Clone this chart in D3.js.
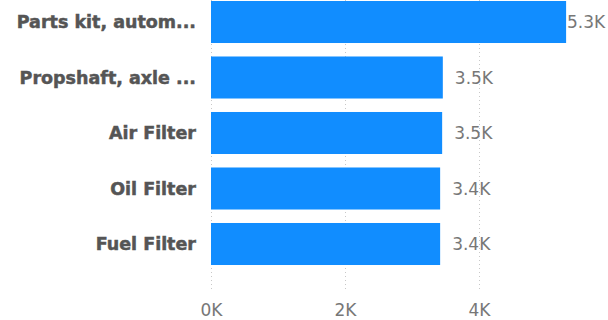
<!DOCTYPE html>
<html>
<head>
<meta charset="utf-8">
<script src="https://cdn.jsdelivr.net/npm/d3@7"></script>
<style>
  html, body { margin: 0; padding: 0; background: #fff; }
  svg { display: block; }
</style>
</head>
<body>
<svg id="chart" width="608" height="320"></svg>
<script>
// Top products by quantity
const categories = ["Parts kit, autom...", "Propshaft, axle ...", "Air Filter", "Oil Filter", "Fuel Filter"];
const values = [5300, 3460, 3450, 3420, 3420];
const valueLabels = ["5.3K", "3.5K", "3.5K", "3.4K", "3.4K"];
const tickValues = [0, 2000, 4000];
const tickLabels = ["0K", "2K", "4K"];

const svg = d3.select("#chart");
const W = 608, H = 320;
const left = 211;

const x = d3.scaleLinear().domain([0, 4000]).range([left, 479]);
const y = d3.scaleBand()
  .domain(categories)
  .range([-5.75, -5.75 + 5 * 55.5])
  .paddingInner(0.243)
  .paddingOuter(0.1215);

// dotted vertical gridlines
svg.append("g")
  .selectAll("line")
  .data(tickValues)
  .join("line")
  .attr("x1", d => x(d) + 0.5)
  .attr("x2", d => x(d) + 0.5)
  .attr("y1", 0)
  .attr("y2", 292)
  .attr("stroke", "#c8c8c8")
  .attr("stroke-width", 1)
  .attr("stroke-dasharray", "1,3");

// x axis tick labels
const xAxis = d3.axisBottom(x)
  .tickValues(tickValues)
  .tickFormat((d, i) => tickLabels[i])
  .tickSize(0)
  .tickPadding(0);
const gx = svg.append("g").attr("transform", "translate(0,316)").call(xAxis);
gx.select(".domain").remove();
gx.selectAll("text")
  .attr("fill", "#777")
  .attr("font-family", "'DejaVu Sans', sans-serif")
  .attr("font-size", 17)
  .attr("dy", 0);

// bars
svg.append("g")
  .selectAll("rect")
  .data(categories)
  .join("rect")
  .attr("x", x(0))
  .attr("y", d => y(d))
  .attr("width", (d, i) => x(values[i]) - x(0))
  .attr("height", y.bandwidth())
  .attr("fill", "#118DFF");

// category labels (extra-heavy bold)
svg.append("g")
  .selectAll("text")
  .data(categories)
  .join("text")
  .attr("x", 196)
  .attr("y", d => y(d) + y.bandwidth() / 2)
  .attr("dy", "0.36em")
  .attr("text-anchor", "end")
  .attr("fill", "#555")
  .attr("stroke", "#555")
  .attr("stroke-width", 0.5)
  .attr("font-family", "'DejaVu Sans', sans-serif")
  .attr("font-weight", "bold")
  .attr("font-size", 17.5)
  .text(d => d);

// data labels, kept inside the plot width
svg.append("g")
  .selectAll("text")
  .data(categories)
  .join("text")
  .attr("x", (d, i) => Math.min(x(values[i]) + 12, W - 41))
  .attr("y", d => y(d) + y.bandwidth() / 2)
  .attr("dy", "0.36em")
  .attr("fill", "#777")
  .attr("font-family", "'DejaVu Sans', sans-serif")
  .attr("font-size", 17)
  .text((d, i) => valueLabels[i]);
</script>
</body>
</html>
